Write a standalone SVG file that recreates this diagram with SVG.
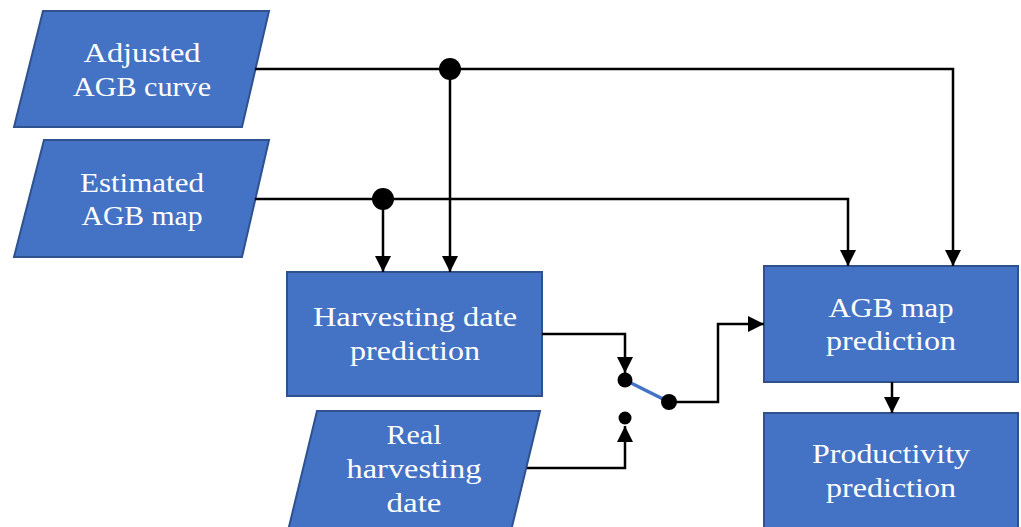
<svg xmlns="http://www.w3.org/2000/svg" width="1021" height="527" viewBox="0 0 1021 527">
<style>
.n{fill:#4472C4;stroke:#2F528F;stroke-width:2}
.t{font-family:"Liberation Serif",serif;font-size:27px;fill:#fff;text-anchor:middle}
.c{fill:none;stroke:#000;stroke-width:2.5}
</style>
<defs>
<marker id="a" markerUnits="userSpaceOnUse" markerWidth="16" markerHeight="16" refX="16" refY="8" orient="auto" viewBox="0 0 16 16">
<path d="M0,0 L16,8 L0,16 z" fill="#000"/>
</marker>
</defs>
<rect width="1021" height="527" fill="#fff"/>
<g id="adjusted">
<polygon class="n" points="43,11 269,11 242,127 14,127"/>
<text class="t" x="142" y="62" textLength="117" lengthAdjust="spacingAndGlyphs">Adjusted</text>
<text class="t" x="142" y="96" textLength="138" lengthAdjust="spacingAndGlyphs">AGB curve</text>
</g>
<g id="estimated">
<polygon class="n" points="44,140 269,140 242,257 14,257"/>
<text class="t" x="142" y="192" textLength="124" lengthAdjust="spacingAndGlyphs">Estimated</text>
<text class="t" x="142" y="225" textLength="121" lengthAdjust="spacingAndGlyphs">AGB map</text>
</g>
<g id="harvest">
<rect class="n" x="287" y="272" width="255" height="124"/>
<text class="t" x="415" y="326" textLength="204" lengthAdjust="spacingAndGlyphs">Harvesting date</text>
<text class="t" x="415" y="360" textLength="130" lengthAdjust="spacingAndGlyphs">prediction</text>
</g>
<g id="real">
<polygon class="n" points="317,411 540,411 510,535 287,535"/>
<text class="t" x="414" y="444" textLength="55" lengthAdjust="spacingAndGlyphs">Real</text>
<text class="t" x="414" y="478" textLength="135" lengthAdjust="spacingAndGlyphs">harvesting</text>
<text class="t" x="414" y="512" textLength="55" lengthAdjust="spacingAndGlyphs">date</text>
</g>
<g id="agbmap">
<rect class="n" x="764" y="266" width="254" height="116"/>
<text class="t" x="891" y="317" textLength="125" lengthAdjust="spacingAndGlyphs">AGB map</text>
<text class="t" x="891" y="350" textLength="130" lengthAdjust="spacingAndGlyphs">prediction</text>
</g>
<g id="productivity">
<rect class="n" x="764" y="413" width="254" height="125"/>
<text class="t" x="891" y="463" textLength="158" lengthAdjust="spacingAndGlyphs">Productivity</text>
<text class="t" x="891" y="497" textLength="130" lengthAdjust="spacingAndGlyphs">prediction</text>
</g>
<g id="connectors">
<path class="c" d="M255,69 H953 V266" marker-end="url(#a)"/>
<path class="c" d="M450,69 V272" marker-end="url(#a)"/>
<path class="c" d="M255,199 H848 V266" marker-end="url(#a)"/>
<path class="c" d="M383,199 V272" marker-end="url(#a)"/>
<path class="c" d="M542,334 H625 V373" marker-end="url(#a)"/>
<path class="c" d="M527,468 H625 V426" marker-end="url(#a)"/>
<path class="c" d="M669,402 H718 V324 H764" marker-end="url(#a)"/>
<path class="c" d="M892,382 V413" marker-end="url(#a)"/>
<line x1="625" y1="380" x2="669" y2="402" stroke="#4472C4" stroke-width="3.5"/>
<circle cx="450" cy="69" r="11" fill="#000"/>
<circle cx="383" cy="199" r="11" fill="#000"/>
<circle cx="625" cy="380" r="7.5" fill="#000"/>
<circle cx="669" cy="402" r="8" fill="#000"/>
<circle cx="625" cy="418" r="6.5" fill="#000"/>
</g>
</svg>
